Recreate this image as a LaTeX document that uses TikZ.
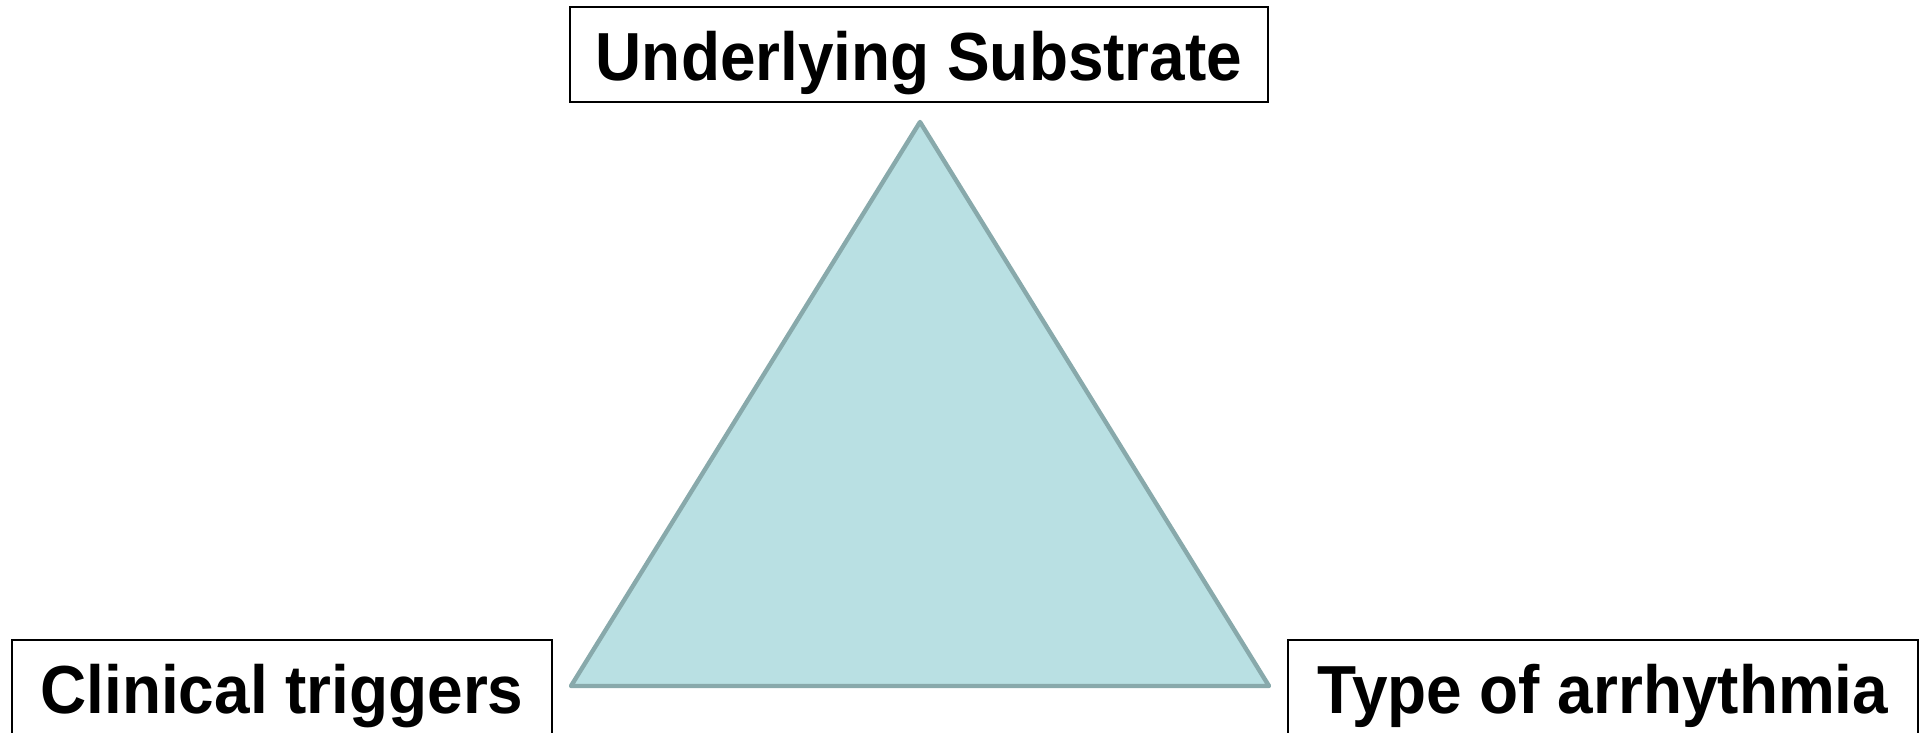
\documentclass[tikz,border=0pt]{standalone}
\usepackage{fontspec}
\setmainfont{Liberation Sans}
\definecolor{trifill}{HTML}{B9E0E3}
\definecolor{triline}{HTML}{88A9AB}
\newcommand{\narrowtext}[1]{\scalebox{0.94}[1]{#1}}
\begin{document}
\begin{tikzpicture}[x=0.5pt,y=-0.5pt,
  labelbox/.style={draw=black,line width=0.8pt,fill=white},
  labeltext/.style={anchor=base,font=\fontsize{34}{40}\selectfont\bfseries,inner sep=0pt}]
\useasboundingbox (0,0) rectangle (1927,733);
\clip (0,0) rectangle (1927,733);
% triangle
\coordinate (apex) at (920,122);
\coordinate (bl) at (571,686);
\coordinate (br) at (1269,686);
\draw[fill=trifill,draw=triline,line width=2.2pt,line join=round] (apex) -- (br) -- (bl) -- cycle;
% boxes
\draw[labelbox] (570,7) rectangle (1268,102);
\draw[labelbox] (12,640) rectangle (552,800);
\draw[labelbox] (1288,640) rectangle (1918,800);
\node[labeltext] (top) at (919,81) {\narrowtext{Underlying Substrate}};
\node[labeltext] (left) at (282,713) {\narrowtext{Clinical triggers}};
\node[labeltext] (right) at (1603,713) {\narrowtext{Type of arrhythmia}};
\end{tikzpicture}
\end{document}
